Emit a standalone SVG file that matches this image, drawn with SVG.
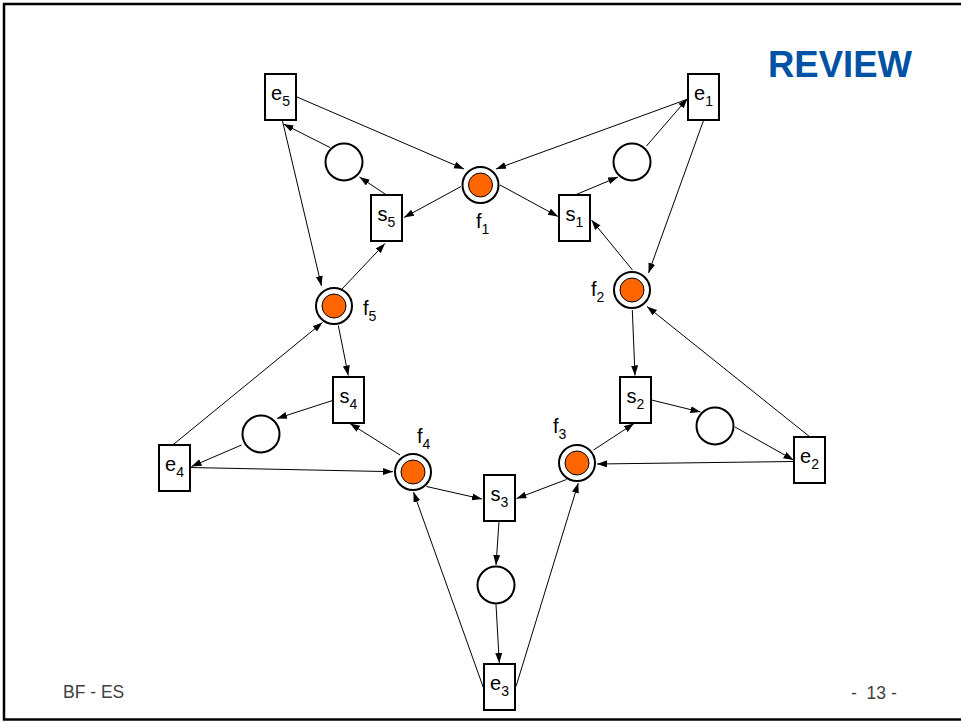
<svg xmlns="http://www.w3.org/2000/svg" width="961" height="722" viewBox="0 0 961 722">
  <style>
    .frame { fill: none; stroke: #000; stroke-width: 2.5; }
    .trans { fill: #fff; stroke: #000; stroke-width: 2; }
    .place { fill: #fff; stroke: #000; stroke-width: 2; }
    .token { fill: #ff6600; stroke: #000; stroke-width: 1; }
    .lbl { font-family: "Liberation Sans", Arial, sans-serif; font-size: 20px; fill: #000; }
    .sub { font-size: 14px; }
    .arc { fill: none; stroke: #000; stroke-width: 1; marker-end: url(#arrow); }
    .title { font-family: "Liberation Sans", Arial, sans-serif; font-size: 36.5px; font-weight: bold; fill: #0052a4; }
    .foot { font-family: "Liberation Sans", Arial, sans-serif; font-size: 17.5px; fill: #404040; }
  </style>
  <defs>
    <marker id="arrow" markerUnits="userSpaceOnUse" markerWidth="11" markerHeight="8" refX="10" refY="3.5" orient="auto">
      <path d="M0,0 L10,3.5 L0,7 Z" fill="#000"/>
    </marker>
  </defs>

  <rect x="0" y="0" width="961" height="722" fill="#fff"/>
  <rect class="frame" x="4" y="4" width="990" height="715.5"/>

  <text class="title" x="768" y="77">REVIEW</text>

  <!-- forks (marked places) -->
  <g id="f1"><circle class="place" cx="480.5" cy="185" r="18"/><circle class="token" cx="480.5" cy="185" r="12"/>
    <text class="lbl" x="476" y="228">f<tspan class="sub" dy="6">1</tspan></text></g>
  <g id="f2"><circle class="place" cx="632" cy="290" r="18"/><circle class="token" cx="632" cy="290" r="12"/>
    <text class="lbl" x="591" y="296">f<tspan class="sub" dy="6">2</tspan></text></g>
  <g id="f3"><circle class="place" cx="577" cy="463" r="18"/><circle class="token" cx="577" cy="463" r="12"/>
    <text class="lbl" x="553" y="433">f<tspan class="sub" dy="6">3</tspan></text></g>
  <g id="f4"><circle class="place" cx="413" cy="472" r="18"/><circle class="token" cx="413" cy="472" r="12"/>
    <text class="lbl" x="417" y="443">f<tspan class="sub" dy="6">4</tspan></text></g>
  <g id="f5"><circle class="place" cx="334" cy="306" r="18"/><circle class="token" cx="334" cy="306" r="12"/>
    <text class="lbl" x="363" y="315">f<tspan class="sub" dy="6">5</tspan></text></g>

  <!-- eating places -->
  <g id="p1"><circle class="place" cx="632" cy="162" r="18.5"/></g>
  <g id="p2"><circle class="place" cx="715" cy="426" r="18.5"/></g>
  <g id="p3"><circle class="place" cx="496" cy="585" r="18.5"/></g>
  <g id="p4"><circle class="place" cx="261" cy="434" r="18.5"/></g>
  <g id="p5"><circle class="place" cx="344" cy="162" r="18.5"/></g>

  <!-- transitions -->
  <g id="e1"><rect class="trans" x="688" y="74" width="31" height="46"/>
    <text class="lbl" x="703.5" y="100" text-anchor="middle">e<tspan class="sub" dy="6">1</tspan></text></g>
  <g id="e2"><rect class="trans" x="794" y="437" width="31" height="46"/>
    <text class="lbl" x="809.5" y="463" text-anchor="middle">e<tspan class="sub" dy="6">2</tspan></text></g>
  <g id="e3"><rect class="trans" x="484" y="664" width="31" height="46"/>
    <text class="lbl" x="499.5" y="690" text-anchor="middle">e<tspan class="sub" dy="6">3</tspan></text></g>
  <g id="e4"><rect class="trans" x="159" y="445" width="31" height="46"/>
    <text class="lbl" x="174.5" y="471" text-anchor="middle">e<tspan class="sub" dy="6">4</tspan></text></g>
  <g id="e5"><rect class="trans" x="265" y="74" width="31" height="46"/>
    <text class="lbl" x="280.5" y="100" text-anchor="middle">e<tspan class="sub" dy="6">5</tspan></text></g>
  <g id="s1"><rect class="trans" x="559" y="195" width="31" height="46"/>
    <text class="lbl" x="574.5" y="221" text-anchor="middle">s<tspan class="sub" dy="6">1</tspan></text></g>
  <g id="s2"><rect class="trans" x="620" y="377" width="31" height="46"/>
    <text class="lbl" x="635.5" y="403" text-anchor="middle">s<tspan class="sub" dy="6">2</tspan></text></g>
  <g id="s3"><rect class="trans" x="484" y="475" width="31" height="46"/>
    <text class="lbl" x="499.5" y="501" text-anchor="middle">s<tspan class="sub" dy="6">3</tspan></text></g>
  <g id="s4"><rect class="trans" x="333" y="377" width="31" height="46"/>
    <text class="lbl" x="348.5" y="403" text-anchor="middle">s<tspan class="sub" dy="6">4</tspan></text></g>
  <g id="s5"><rect class="trans" x="371" y="195" width="31" height="46"/>
    <text class="lbl" x="386.5" y="221" text-anchor="middle">s<tspan class="sub" dy="6">5</tspan></text></g>

  <!-- arcs -->
  <g id="connectors">
    <line class="arc" x1="297" y1="97" x2="464" y2="169"/>
    <line class="arc" x1="688" y1="99" x2="496" y2="169"/>
    <line class="arc" x1="500" y1="185" x2="558" y2="216.5"/>
    <line class="arc" x1="575" y1="195" x2="618" y2="177"/>
    <line class="arc" x1="646.5" y1="146" x2="687.5" y2="98.5"/>
    <line class="arc" x1="703.5" y1="120.5" x2="648.5" y2="273"/>
    <line class="arc" x1="632.5" y1="270" x2="591.5" y2="220"/>
    <line class="arc" x1="632.3" y1="310" x2="635" y2="375.5"/>
    <line class="arc" x1="810" y1="437" x2="647" y2="306.5"/>
    <line class="arc" x1="651.5" y1="400" x2="700.5" y2="412"/>
    <line class="arc" x1="735" y1="427" x2="793.5" y2="460"/>
    <line class="arc" x1="794" y1="461.5" x2="597" y2="464"/>
    <line class="arc" x1="593.5" y1="450" x2="634" y2="423.5"/>
    <line class="arc" x1="566.5" y1="479.5" x2="516.5" y2="498.5"/>
    <line class="arc" x1="426.5" y1="486.5" x2="482" y2="499"/>
    <line class="arc" x1="499" y1="521.5" x2="496" y2="565"/>
    <line class="arc" x1="496" y1="604.5" x2="499.3" y2="663"/>
    <line class="arc" x1="483.5" y1="688" x2="413.5" y2="492"/>
    <line class="arc" x1="516" y1="686.5" x2="578.3" y2="483"/>
    <line class="arc" x1="400" y1="455" x2="350" y2="423.5"/>
    <line class="arc" x1="190" y1="467.5" x2="393" y2="471.7"/>
    <line class="arc" x1="332.5" y1="400.5" x2="277" y2="418.5"/>
    <line class="arc" x1="241.5" y1="445" x2="191.5" y2="466.5"/>
    <line class="arc" x1="173.3" y1="444.5" x2="322.5" y2="322.5"/>
    <line class="arc" x1="338.3" y1="325.5" x2="348.3" y2="375.5"/>
    <line class="arc" x1="282.5" y1="121" x2="321.5" y2="286"/>
    <line class="arc" x1="342" y1="289" x2="385" y2="243.5"/>
    <line class="arc" x1="386.5" y1="195" x2="359.5" y2="177"/>
    <line class="arc" x1="330" y1="147.5" x2="283.5" y2="124"/>
    <line class="arc" x1="461" y1="186.5" x2="404" y2="217.5"/>
  </g>

  <text class="foot" x="63" y="698">BF - ES</text>
  <text class="foot" x="851" y="699" xml:space="preserve">-  13 -</text>
</svg>
